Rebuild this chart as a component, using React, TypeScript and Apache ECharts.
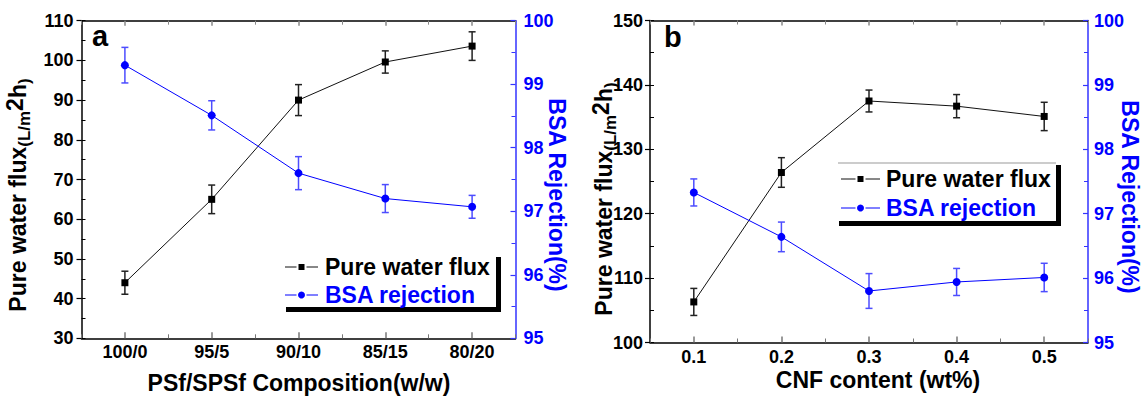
import React, { useEffect, useRef } from "react";
import * as echarts from "echarts";

// ---- data ----
const catsA = ["100/0", "95/5", "90/10", "85/15", "80/20"];
const fluxA = [44.0, 65.0, 90.0, 99.6, 103.6];
const fluxErrA = [2.9, 3.6, 3.9, 2.8, 3.6];
const bsaA = [99.3, 98.51, 97.6, 97.2, 97.07];
const bsaErrA = [0.28, 0.23, 0.26, 0.22, 0.18];

const catsB = ["0.1", "0.2", "0.3", "0.4", "0.5"];
const fluxB = [106.3, 126.4, 137.5, 136.7, 135.1];
const fluxErrB = [2.1, 2.3, 1.7, 1.8, 2.2];
const bsaB = [97.33, 96.64, 95.8, 95.94, 96.01];
const bsaErrB = [0.21, 0.23, 0.27, 0.21, 0.22];

const fluxRangeA = [30, 110];
const fluxRangeB = [100, 150];
const bsaRange = [95, 100];

const FONT = "Liberation Sans, Arial, sans-serif";
const BLUE = "#0000ff";
const BLUE_ERR = "#4d4dff";
const TICK_FS = 18;

function errItem(color: string, capHalf: number) {
  return (params: any, api: any) => {
    const x = api.value(0);
    const y = api.value(1);
    const e = api.value(2);
    const p1 = api.coord([x, y + e]);
    const p2 = api.coord([x, y - e]);
    const st = { stroke: color, lineWidth: 1.5 };
    return {
      type: "group",
      children: [
        { type: "line", shape: { x1: p1[0], y1: p1[1], x2: p2[0], y2: p2[1] }, style: st },
        { type: "line", shape: { x1: p1[0] - capHalf, y1: p1[1], x2: p1[0] + capHalf, y2: p1[1] }, style: st },
        { type: "line", shape: { x1: p2[0] - capHalf, y1: p2[1], x2: p2[0] + capHalf, y2: p2[1] }, style: st },
      ],
    };
  };
}

function xAxes(gridIndex: number, cats: string[]) {
  const base = { type: "category", gridIndex, data: cats, boundaryGap: true, offset: 0 };
  return [
    {
      ...base,
      position: "bottom",
      axisLine: { show: true, lineStyle: { color: "#000", width: 1.5 } },
      axisTick: { show: true, inside: true, alignWithLabel: true, length: 6, lineStyle: { color: "#777", width: 1.5 } },
      axisLabel: { show: true, margin: 5, color: "#000", fontFamily: FONT, fontWeight: "bold", fontSize: TICK_FS },
      splitLine: { show: false },
    },
    {
      ...base,
      position: "bottom",
      axisLine: { show: false },
      axisTick: { show: true, inside: true, alignWithLabel: false, length: 4, lineStyle: { color: "#777", width: 1 } },
      axisLabel: { show: false },
      splitLine: { show: false },
    },
    {
      ...base,
      position: "top",
      axisLine: { show: true, lineStyle: { color: "#000", width: 1.5 } },
      axisTick: { show: true, inside: true, alignWithLabel: true, length: 5, lineStyle: { color: "#888", width: 1.5 } },
      axisLabel: { show: false },
      splitLine: { show: false },
    },
    {
      ...base,
      position: "top",
      axisLine: { show: false },
      axisTick: { show: true, inside: true, alignWithLabel: false, length: 4, lineStyle: { color: "#888", width: 1 } },
      axisLabel: { show: false },
      splitLine: { show: false },
    },
  ];
}

function yAxes(gridIndex: number, range: number[], leftMargin: number, rightMargin: number) {
  return [
    {
      type: "value",
      gridIndex,
      position: "left",
      offset: 0,
      min: range[0],
      max: range[1],
      interval: 10,
      axisLine: { show: true, lineStyle: { color: "#000", width: 1.5 } },
      axisTick: { show: true, inside: false, length: 5, lineStyle: { color: "#000", width: 1.2 } },
      axisLabel: {
        show: true,
        margin: leftMargin,
        color: "#000",
        fontFamily: FONT,
        fontWeight: "bold",
        fontSize: TICK_FS,
        showMinLabel: true,
        showMaxLabel: true,
      },
      splitLine: { show: false },
    },
    {
      type: "value",
      gridIndex,
      position: "left",
      offset: 0,
      min: range[0],
      max: range[1],
      interval: 5,
      axisLine: { show: false },
      axisTick: { show: true, inside: true, length: 4, lineStyle: { color: "#000", width: 1 } },
      axisLabel: { show: false },
      splitLine: { show: false },
    },
    {
      type: "value",
      gridIndex,
      position: "right",
      offset: 0,
      min: bsaRange[0],
      max: bsaRange[1],
      interval: 1,
      axisLine: { show: true, lineStyle: { color: "#3333ff", width: 1.5 } },
      axisTick: { show: true, inside: true, length: 5, lineStyle: { color: "#3333ff", width: 1.2 } },
      minorTick: { show: true, splitNumber: 2, length: 4, lineStyle: { color: "#3333ff", width: 1 } },
      axisLabel: {
        show: true,
        margin: rightMargin,
        color: BLUE,
        fontFamily: FONT,
        fontWeight: "bold",
        fontSize: TICK_FS,
        showMinLabel: true,
        showMaxLabel: true,
      },
      splitLine: { show: false },
      minorSplitLine: { show: false },
    },
  ];
}

function panelSeries(xIdx: number, yIdxFlux: number, yIdxBsa: number, flux: number[], fluxErr: number[], bsa: number[], bsaErr: number[]) {
  return [
    {
      type: "custom",
      xAxisIndex: xIdx,
      yAxisIndex: yIdxFlux,
      renderItem: errItem("#222", 3.5),
      data: flux.map((v, i) => [i, v, fluxErr[i]]),
      encode: { x: 0, y: 1 },
      z: 3,
    },
    {
      type: "custom",
      xAxisIndex: xIdx,
      yAxisIndex: yIdxBsa,
      renderItem: errItem(BLUE_ERR, 3.5),
      data: bsa.map((v, i) => [i, v, bsaErr[i]]),
      encode: { x: 0, y: 1 },
      z: 3,
    },
    {
      type: "line",
      xAxisIndex: xIdx,
      yAxisIndex: yIdxFlux,
      data: flux,
      symbol: "rect",
      symbolSize: 7,
      itemStyle: { color: "#000" },
      lineStyle: { color: "#111", width: 1 },
      z: 4,
    },
    {
      type: "line",
      xAxisIndex: xIdx,
      yAxisIndex: yIdxBsa,
      data: bsa,
      symbol: "circle",
      symbolSize: 8,
      itemStyle: { color: BLUE },
      lineStyle: { color: BLUE, width: 1 },
      z: 4,
    },
  ];
}

function legendGraphics(opt: {
  x0: number; y0: number; x1: number; y1: number; topLine: boolean;
  symX0: number; symX1: number; textX: number; row1: number; row2: number;
}) {
  const { x0, y0, x1, y1, topLine, symX0, symX1, textX, row1, row2 } = opt;
  const mid = (symX0 + symX1) / 2;
  const els: any[] = [
    { type: "rect", shape: { x: x0, y: y0, width: x1 - x0, height: y1 - y0 }, style: { fill: "#fff" }, z: 100 },
    { type: "rect", shape: { x: x1, y: y0 + 2, width: 5, height: y1 - y0 + 3 }, style: { fill: "#000" }, z: 100 },
    { type: "rect", shape: { x: x0 + 1, y: y1, width: x1 - x0 + 4, height: 5 }, style: { fill: "#000" }, z: 100 },
    // row 1
    { type: "line", shape: { x1: symX0, y1: row1, x2: mid - 5, y2: row1 }, style: { stroke: "#111", lineWidth: 1 }, z: 101 },
    { type: "line", shape: { x1: mid + 5, y1: row1, x2: symX1, y2: row1 }, style: { stroke: "#111", lineWidth: 1 }, z: 101 },
    { type: "rect", shape: { x: mid - 3, y: row1 - 3, width: 6, height: 6 }, style: { fill: "#000" }, z: 101 },
    {
      type: "text", x: textX, y: row1, z: 101,
      style: { text: "Pure water flux", fill: "#000", font: `bold 23px ${FONT}`, textAlign: "left", textVerticalAlign: "middle", align: "left", verticalAlign: "middle" },
    },
    // row 2
    { type: "line", shape: { x1: symX0, y1: row2, x2: mid - 5, y2: row2 }, style: { stroke: BLUE, lineWidth: 1 }, z: 101 },
    { type: "line", shape: { x1: mid + 5, y1: row2, x2: symX1, y2: row2 }, style: { stroke: BLUE, lineWidth: 1 }, z: 101 },
    { type: "circle", shape: { cx: mid, cy: row2, r: 3.5 }, style: { fill: BLUE }, z: 101 },
    {
      type: "text", x: textX, y: row2, z: 101,
      style: { text: "BSA rejection", fill: BLUE, font: `bold 23px ${FONT}`, textAlign: "left", textVerticalAlign: "middle", align: "left", verticalAlign: "middle" },
    },
  ];
  if (topLine) {
    els.push({ type: "line", shape: { x1: x0, y1: y0, x2: x1, y2: y0 }, style: { stroke: "#999", lineWidth: 1 }, z: 101 });
  }
  return els;
}

const richY = {
  a: { fontFamily: FONT, fontWeight: "bold", fontSize: 23, lineHeight: 30, fill: "#000", color: "#000", verticalAlign: "middle" },
  s: { fontFamily: FONT, fontWeight: "bold", fontSize: 17, lineHeight: 26, fill: "#000", color: "#000", verticalAlign: "bottom" },
  p: { fontFamily: FONT, fontWeight: "bold", fontSize: 23, lineHeight: 18, fill: "#000", color: "#000", verticalAlign: "top" },
};

function yTitle(x: number, y: number) {
  return {
    type: "text", x, y, rotation: Math.PI / 2, z: 50,
    style: {
      text: "{a|Pure water flux}{s|(L/m}{p|2}{a|h}{s|)}",
      rich: richY,
      fill: "#000",
      textAlign: "center", textVerticalAlign: "middle", align: "center", verticalAlign: "middle",
    },
  };
}

function rTitle(x: number, y: number) {
  return {
    type: "text", x, y, rotation: -Math.PI / 2, z: 50,
    style: {
      text: "BSA Rejection(%)", fill: BLUE, font: `bold 23px ${FONT}`,
      textAlign: "center", textVerticalAlign: "middle", align: "center", verticalAlign: "middle",
    },
  };
}

function hText(text: string, x: number, y: number, size: number, align = "center") {
  return {
    type: "text", x, y, z: 50,
    style: {
      text, fill: "#000", font: `bold ${size}px ${FONT}`,
      textAlign: align, textVerticalAlign: "middle", align, verticalAlign: "middle",
    },
  };
}

export default function App() {
  const ref = useRef<HTMLDivElement>(null);
  useEffect(() => {
    if (!ref.current) return;
    const chart = echarts.init(ref.current, null, { renderer: "svg" });
    const option: any = {
      animation: false,
      backgroundColor: "#ffffff",
      textStyle: { fontFamily: FONT },
      grid: [
        { left: 81.5, top: 20.7, width: 434, height: 317.6, containLabel: false, outerBoundsMode: "none" },
        { left: 650, top: 20.5, width: 438, height: 322, containLabel: false, outerBoundsMode: "none" },
      ],
      xAxis: [...xAxes(0, catsA), ...xAxes(1, catsB)],
      yAxis: [...yAxes(0, fluxRangeA, 8, 8), ...yAxes(1, fluxRangeB, 7, 6)],
      series: [
        ...panelSeries(0, 0, 2, fluxA, fluxErrA, bsaA, bsaErrA),
        ...panelSeries(4, 3, 5, fluxB, fluxErrB, bsaB, bsaErrB),
      ],
      graphic: [
        hText("a", 92, 36, 29, "left"),
        hText("b", 664, 37, 29, "left"),
        yTitle(18, 195),
        rTitle(557, 195),
        yTitle(604, 199),
        rTitle(1130, 197),
        hText("PSf/SPSf Composition(w/w)", 299, 383, 23),
        hText("CNF content (wt%)", 878, 380, 23),
        ...legendGraphics({ x0: 285, y0: 255, x1: 496, y1: 307, topLine: false, symX0: 285, symX1: 318, textX: 325, row1: 267, row2: 295 }),
        ...legendGraphics({ x0: 838, y0: 163, x1: 1056, y1: 221, topLine: true, symX0: 841, symX1: 880, textX: 886, row1: 179, row2: 208 }),
      ],
    };
    chart.setOption(option);
    return () => chart.dispose();
  }, []);
  return (
    <div
      ref={ref}
      style={{ position: "absolute", left: 0, top: 0, width: 1144, height: 396, background: "#fff" }}
    />
  );
}
